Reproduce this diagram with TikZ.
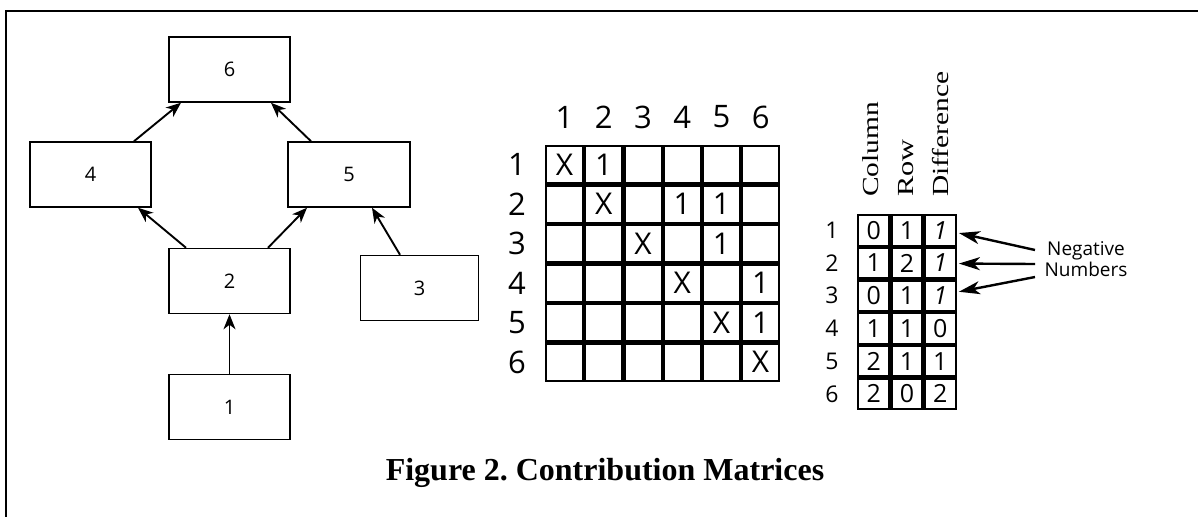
\documentclass[tikz,border=0pt]{standalone}
\usepackage{fontspec}
\setmainfont{Liberation Serif}
\newfontfamily\opensans{Open Sans}
\usetikzlibrary{arrows.meta}
\begin{document}
\begin{tikzpicture}[x=1pt,y=-1pt,
  blk/.style={draw, line width=1.5pt, minimum width=121pt, minimum height=65pt,
    inner sep=0pt, font=\opensans\fontsize{20}{22}\selectfont},
  flow/.style={line width=1.9pt, -{Stealth[length=15pt,width=12pt,inset=4.5pt]}},
  mcell/.style={draw, line width=2.1pt, minimum width=37.1pt, minimum height=37.4pt, inner sep=0pt},
  mtext/.style={inner sep=0pt, font=\opensans\fontsize{30}{32}\selectfont},
  mlab/.style={inner sep=0pt, font=\opensans\fontsize{31}{33}\selectfont},
  scell/.style={draw, line width=2.2pt, minimum width=31.1pt, minimum height=30.5pt, inner sep=0pt},
  stext/.style={inner sep=0pt, font=\opensans\fontsize{25}{27}\selectfont},
  slab/.style={inner sep=0pt, font=\opensans\fontsize{23}{25}\selectfont},
  hdr/.style={rotate=90, anchor=base west, inner sep=0pt, font=\fontsize{23}{25}\selectfont},
  note/.style={line width=2.4pt, -{Stealth[length=21pt,width=13pt,inset=6pt]}}
]
\useasboundingbox (0,0) rectangle (1198,517);

% frame
\draw[line width=2.2pt] (1198,11) -- (6,11) -- (6,517);

% dependency graph
\node[blk] (n6) at (229.5,69.5) {6};
\node[blk] (n4) at (90.5,174.5) {4};
\node[blk, minimum width=122pt] (n5) at (349,174.5) {5};
\node[blk] (n2) at (229.5,281) {2};
\node[blk, minimum width=118pt] (n3) at (419.5,288) {3};
\node[blk] (n1) at (229.5,407) {1};

\draw[flow] (n1) -- (n2);
\draw[flow] ([xshift=-43.5pt]n2.north) -- ([xshift=47.5pt]n4.south);
\draw[flow] ([xshift=38.5pt]n2.north) -- ([xshift=-42pt]n5.south);
\draw[flow] ([xshift=-19.5pt]n3.north) -- ([xshift=23pt]n5.south);
\draw[flow] ([xshift=43.5pt]n4.north) -- ([xshift=-48.5pt]n6.south);
\draw[flow] ([xshift=-38pt]n5.north) -- ([xshift=41.5pt]n6.south);

% contribution matrix
\foreach \r in {1,...,6}{
  \node[mlab] (rl-\r) at (517,{145+39.5*(\r-0.5)}) {\r};
  \node[mlab] (cl-\r) at ({545+39.2*(\r-0.5)},117) {\r};
  \foreach \c in {1,...,6}
    \node[mcell] (m-\r-\c) at ({545+39.2*(\c-0.5)},{145+39.5*(\r-0.5)}) {};
}
\foreach \r/\c/\t in {1/1/X,1/2/1,2/2/X,2/4/1,2/5/1,3/3/X,3/5/1,4/4/X,4/6/1,5/5/X,5/6/1,6/6/X}
  \node[mtext] (t-\r-\c) at (m-\r-\c) {\t};

% column / row / difference table
\node[hdr] (h-col) at (878,197) {\scalebox{1.28}[1]{Column}};
\node[hdr] (h-row) at (913,197) {\scalebox{1.32}[1]{Row}};
\node[hdr] (h-dif) at (948,197) {\scalebox{1.28}[1]{Difference}};
\foreach \r in {1,...,6}{
  \node[slab] (sl-\r) at (832,{214+32.7*(\r-0.5)}) {\r};
  \foreach \c in {1,2,3}
    \node[scell] (s-\r-\c) at ({857+33.3*(\c-0.5)},{214+32.7*(\r-0.5)}) {};
}
\foreach \r/\c/\t in {1/1/0,1/2/1,1/3/{\textit{1}},
                      2/1/1,2/2/2,2/3/{\textit{1}},
                      3/1/0,3/2/1,3/3/{\textit{1}},
                      4/1/1,4/2/1,4/3/0,
                      5/1/2,5/2/1,5/3/1,
                      6/1/2,6/2/0,6/3/2}
  \node[stext] (v-\r-\c) at (s-\r-\c) {\t};

% note on the negative differences
\node[align=center, inner sep=0pt, font=\opensans\fontsize{19}{21}\selectfont] (neg) at (1086,259.5) {Negative\\Numbers};
\coordinate (p1) at (1035,250);
\coordinate (p2) at (1035,264);
\coordinate (p3) at (1035,277);
\draw[note] (p1) -- ([xshift=2pt,yshift=-2.7pt]s-1-3.east);
\draw[note] (p2) -- ([xshift=2pt,yshift=-0.5pt]s-2-3.east);
\draw[note] (p3) -- ([xshift=2pt,yshift=4pt]s-3-3.east);

% caption
\node[font=\bfseries\fontsize{32}{38}\selectfont, anchor=base, inner sep=0pt] (cap) at (605,480) {Figure 2.\ Contribution Matrices};
\end{tikzpicture}
\end{document}
